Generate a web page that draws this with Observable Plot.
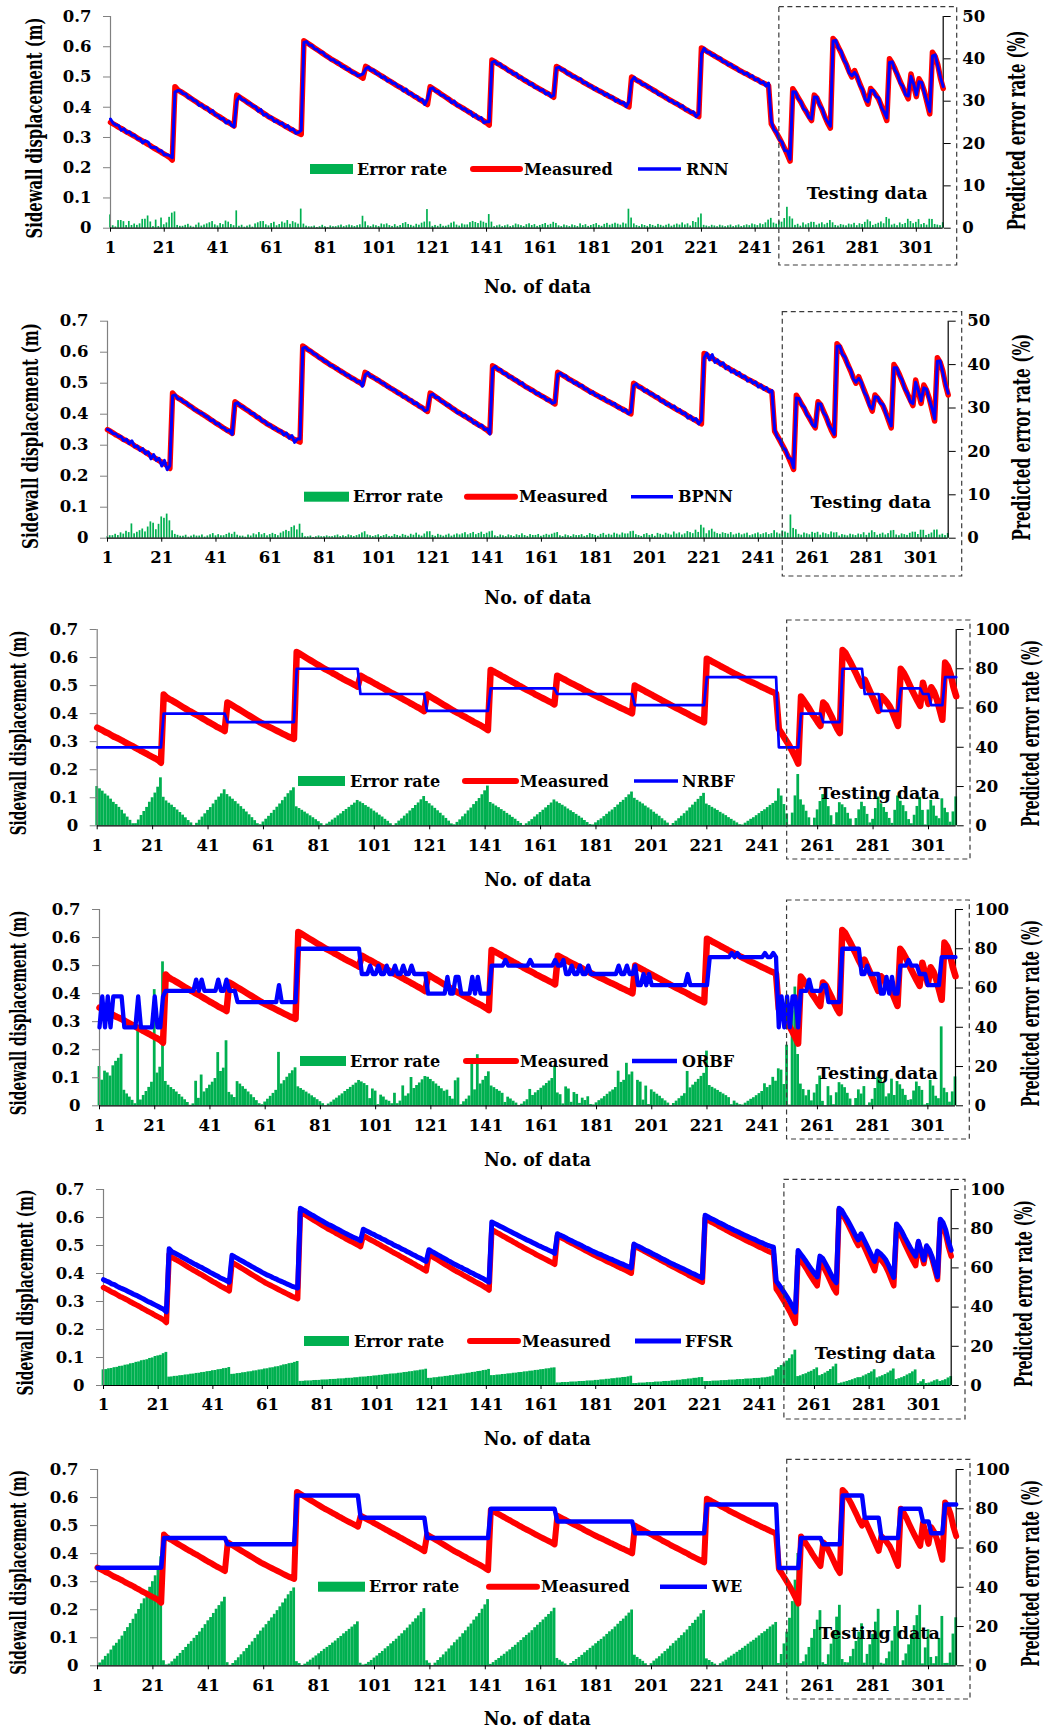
<!DOCTYPE html>
<html>
<head>
<meta charset="utf-8">
<script src="https://cdn.jsdelivr.net/npm/d3@7"></script>
<script src="https://cdn.jsdelivr.net/npm/@observablehq/plot@0.6"></script>
<style>
  body { margin: 0; background: #fff; }
  #chart { position: relative; width: 1052px; height: 1733px; }
  #chart svg { position: absolute; left: 0; overflow: visible; }
</style>
</head>
<body>
<div id="chart"></div>
<script>
// ---------------------------------------------------------------------------
// Data: sidewall displacement record (No. 1–311), in millimetres
// ---------------------------------------------------------------------------
const dataNoTicks = [1, 21, 41, 61, 81, 101, 121, 141, 161, 181, 201, 221, 241, 261, 281, 301];
const displacementTicks = [0, 0.1, 0.2, 0.3, 0.4, 0.5, 0.6, 0.7];
const errorTicks50 = [0, 10, 20, 30, 40, 50];
const errorTicks100 = [0, 20, 40, 60, 80, 100];
const trainingCount = 250;

const measuredMm = [
  350,345,340,334,330,324,318,314,309,304,298,293,288,283,277,272,266,261,256,250,245,240,234,225,
  468,458,452,447,441,435,429,423,417,411,406,400,395,389,383,377,371,366,360,354,349,344,338,
  440,434,428,422,416,410,404,398,392,386,380,374,368,363,358,353,348,343,338,333,328,323,318,314,310,
  620,614,608,602,596,590,584,578,572,566,560,555,550,544,539,533,528,522,517,512,507,502,496,
  535,530,524,519,514,508,503,497,492,486,481,475,470,465,459,454,448,443,437,432,426,421,415,409,
  468,462,456,450,444,438,432,426,420,414,408,403,398,392,387,381,376,370,365,360,354,348,341,
  556,551,545,540,534,529,523,518,512,507,501,496,490,485,480,475,469,464,459,454,449,444,439,433,
  535,530,525,520,514,509,504,499,494,489,483,478,473,468,463,458,454,449,444,439,435,430,425,420,416,411,406,401,
  500,494,489,484,478,473,468,462,457,452,446,441,436,430,425,420,415,410,405,400,394,389,384,379,374,369,
  596,591,585,580,575,569,564,559,553,548,543,538,533,528,523,518,513,509,504,499,494,490,485,480,476,471,
  // testing data
  345,330,314,298,281,263,243,222,
  461,447,432,417,400,385,370,356,
  440,430,410,390,368,347,331,
  627,617,598,580,560,540,518,500,
  521,499,477,455,432,410,
  462,452,440,426,405,380,356,
  560,546,528,506,485,465,446,428,
  510,472,435,
  494,478,452,415,378,
  582,568,540,495,462
];

// Prediction residuals (predicted − measured), mm
const rnnResidualMm = [
  11,2,1,6,-6,5,-2,5,-2,3,-2,3,-6,6,8,-4,1,5,-1,6,-2,3,6,8,
  -18,-3,2,-2,3,-4,2,-1,3,-5,2,-3,4,-5,6,-3,2,-4,3,-6,5,-3,-2,
  -18,2,-3,1,-2,3,-1,4,-5,6,-6,3,-2,4,-5,2,-3,5,-4,6,-3,5,-4,3,14,
  -6,3,-2,2,-3,1,-2,4,-2,1,-3,2,-2,3,-4,2,-3,4,-3,2,-3,4,14,
  -8,3,-2,4,-3,2,-5,4,-5,3,-2,4,-2,3,-5,6,-4,3,-2,4,-3,5,-6,18,
  -7,2,-3,2,-4,2,-2,3,-5,6,-3,2,-4,3,-3,5,-6,5,-4,6,-5,4,11,
  -8,2,-3,4,-2,3,-4,2,-3,5,-4,3,-2,4,-5,3,-4,2,-3,4,-5,3,-4,6,
  -6,3,-2,4,-3,2,-4,3,-2,5,-3,4,-2,3,-4,5,-3,2,-4,5,-3,4,-5,4,-3,5,-4,18,
  -12,5,-3,2,-4,3,-2,4,-3,2,-4,3,-2,3,-4,2,-3,4,-3,5,-3,4,-2,6,-5,9,
  -20,4,-3,2,-4,3,-2,4,-3,2,-3,4,-2,3,-4,2,-3,4,-3,5,-4,3,-5,4,-6,9,
  8,-4,3,-5,4,-6,12,6,
  -10,3,-4,2,-5,3,-4,5,
  -6,3,-4,5,-3,4,6,
  -8,4,-3,5,-4,3,-5,4,
  -6,3,-5,4,-6,8,
  -7,3,-4,5,-6,4,9,
  -12,4,-5,3,-6,4,-5,9,
  -8,5,6,
  -10,4,-5,3,8,
  -12,5,-4,3,6
];

const bpnnResidualMm = [
  1,2,-2,3,-2,4,-3,5,-4,10,-3,4,-5,6,-4,7,-10,9,-5,8,-12,11,-13,9,
  -8,4,-3,2,-2,3,-1,2,-3,2,-2,3,-1,2,-3,4,-2,3,-2,2,-3,4,-3,
  -6,3,-2,2,-1,3,-2,4,-3,5,-3,4,-2,3,-4,3,-2,4,-5,6,-5,8,-9,6,10,
  -7,2,-2,3,-1,2,-3,2,-2,3,-2,2,-3,4,-2,3,-2,4,-3,2,-3,4,-6,
  -8,4,-3,2,-3,4,-2,3,-4,2,-2,4,-3,2,-4,3,-2,4,-3,5,-3,2,-4,6,
  -7,3,-2,4,-3,2,-3,4,-2,3,-4,3,-4,5,-3,4,-5,3,-4,5,-3,4,-5,
  -9,3,-2,4,-3,2,-4,3,-2,4,-3,5,-3,2,-4,3,-3,4,-2,3,-4,3,-4,5,
  -7,3,-2,4,-3,2,-4,3,-3,4,-2,3,-5,4,-3,2,-4,5,-3,4,-3,5,-4,3,-5,4,-4,6,
  -8,4,-3,2,-4,5,-3,4,-2,5,-4,3,-5,4,-3,6,-4,5,-3,4,-6,5,-4,7,-5,11,
  -14,6,-10,12,-8,6,-5,7,-6,5,-7,4,-5,6,-4,5,-6,3,-4,5,-6,4,-5,6,-4,5,
  6,-4,3,-5,4,-3,13,5,
  -9,4,-3,5,-4,3,-5,4,
  -6,3,-5,4,-3,5,4,
  -8,3,-5,4,-3,5,-4,3,
  -5,4,-6,3,-5,7,
  -6,3,-4,5,-3,4,6,
  -10,4,-3,5,-4,3,-5,6,
  -7,4,8,
  -9,3,-4,5,7,
  -11,4,-5,3,5
];

const ffsrResidualMm = [
  28,28,29,29,30,30,31,31,32,32,33,33,34,34,35,35,35,36,36,37,37,37,38,38,
  20,20,21,21,22,22,23,23,24,24,25,25,26,26,27,27,28,28,29,29,30,30,31,
  25,25,26,26,27,27,28,28,29,29,30,30,31,31,32,32,33,33,34,35,35,36,36,37,38,
  13,13,14,14,14,15,15,15,16,16,16,17,17,17,18,18,18,19,19,19,20,20,21,
  23,23,24,24,25,25,26,26,27,27,28,28,28,29,29,30,30,31,31,32,32,33,33,34,
  17,17,18,18,19,19,20,20,21,21,22,22,23,23,24,24,25,25,26,26,27,27,28,
  28,28,29,29,30,30,31,31,32,32,33,33,34,34,35,35,36,36,37,37,38,38,39,39,
  7,7,8,8,8,9,9,9,10,10,10,11,11,11,12,12,13,13,14,14,15,15,16,16,17,17,18,19,
  5,5,6,6,6,7,7,7,8,8,8,9,9,9,10,10,11,11,12,12,13,13,14,14,15,15,
  12,12,12,13,13,13,14,14,14,15,15,15,16,16,16,17,17,17,18,18,18,19,19,20,21,23,
  28,30,32,33,35,36,38,40,
  21,22,24,25,27,28,30,32,
  22,24,26,28,30,33,36,
  6,8,10,12,14,16,18,20,
  21,24,26,28,30,33,
  18,20,22,24,26,28,30,
  17,19,21,23,26,28,31,34,
  5,9,13,
  5,6,8,10,11,
  12,14,16,19,21
];

// Piecewise-constant predictions: [first No., level in mm]
const nrbfSteps = [
  [1,280],[25,400],[48,370],[73,560],[96,470],[120,410],[143,490],[167,470],[195,430],[221,530],
  [247,280],[255,400],[263,370],[270,560],[278,470],[284,410],[291,490],[299,470],[302,430],[307,530]
];

const orbfSteps = [
  [1,280],[2,390],[3,280],[4,390],[5,280],[6,390],[10,280],[15,390],[16,280],[21,390],[22,280],[24,390],
  [25,410],[36,450],[37,410],[38,450],[39,410],[44,450],[45,410],[47,450],[48,410],[51,370],
  [66,430],[67,370],[73,560],
  [96,470],[99,500],[100,470],[102,500],[103,470],[105,500],[106,470],[108,500],[109,470],[111,500],[112,470],[114,500],[115,470],
  [120,400],[127,460],[128,400],[130,460],[132,400],[136,460],[137,400],[138,460],[139,400],
  [143,500],[148,520],[149,500],[157,520],[158,500],[166,520],[167,500],[169,520],[170,470],
  [172,500],[173,470],[175,500],[176,470],[178,500],[179,470],[189,500],[190,470],[192,500],[193,470],[195,500],[196,430],
  [198,470],[199,430],[200,470],[201,430],[214,470],[215,430],
  [222,530],[230,545],[231,530],[232,545],[233,530],[242,545],[243,530],[245,545],[246,530],
  [247,280],[248,390],[249,280],[250,390],[251,280],[252,390],[254,280],
  [255,410],[258,450],[259,410],[263,430],[265,370],
  [270,560],[277,470],[279,500],[280,470],
  [284,400],[286,460],[287,400],[288,460],[289,400],
  [291,500],[294,520],[295,500],[298,470],[301,430],[306,530]
];

const weSteps = [
  [1,350],[25,456],[48,433],[73,607],[96,528],[120,456],[143,560],[167,515],[195,473],[221,575],
  [247,349],[255,456],[263,433],[270,607],[278,528],[284,456],[291,560],[299,515],[302,473],[307,575]
];

// ---------------------------------------------------------------------------
// Derived rows: measured, predicted and error rate (%) for each model
// ---------------------------------------------------------------------------
const X_MAX = measuredMm.length;
const Y_MAX = 0.7;

function levelAt(steps, no) {
  let level = steps[0][1];
  for (const [start, value] of steps) {
    if (start <= no) level = value; else break;
  }
  return level;
}

function rowsFrom(predictMm) {
  return measuredMm.map((m, i) => {
    const p = predictMm(i);
    return {no: i + 1, meas: m / 1000, pred: p / 1000, err: Math.abs(p - m) / m * 100};
  });
}

const fromResidual = (res) => rowsFrom((i) => measuredMm[i] + (res[i] ?? 0));
const fromSteps = (steps) => rowsFrom((i) => levelAt(steps, i + 1));

// ---------------------------------------------------------------------------
// Panel layout and styling
// ---------------------------------------------------------------------------
const FONT = "DejaVu Serif";
const GREEN = "#00B050", RED = "#FF0000", BLUE = "#0000FF";
const Y_TITLE = "Sidewall displacement (m)";
const R_TITLE = "Predicted error rate (%)";
const X_TITLE = "No. of data";

const panels = [
  {model: "RNN", rows: fromResidual(rnnResidualMm), rightTicks: errorTicks50, rightMax: 50,
   top: 0, height: 300, frame: {top: 16, bottom: 227.7, left: 110, right: 942.7},
   redWidth: 5.5, blueWidth: 3, barInset: 0.5,
   legend: {y: 169, green: [310, 353], t1: 357, red: [473, 520], t2: 524, blue: [638, 681], t3: 686},
   testing: {dx: -15.7, dy: -34.7}, yTitle: {dx: -76, dy: 5.6, len: 221}, rTitle: {dx: 74, dy: 8, len: 200},
   xTitle: {dx: 10.6, dy: 59.3}, box: {top: -9.3, bottom: -37.3, right: -14}},
  {model: "BPNN", rows: fromResidual(bpnnResidualMm), rightTicks: errorTicks50, rightMax: 50,
   top: 300, height: 300, frame: {top: 320.7, bottom: 537.7, left: 107, right: 947.7},
   redWidth: 5.5, blueWidth: 3, barInset: 0.5,
   legend: {y: 496.7, green: [304, 349], t1: 353, red: [467, 515], t2: 519, blue: [631, 673], t3: 678},
   testing: {dx: -17, dy: -35.7}, yTitle: {dx: -77, dy: 6.3, len: 226}, rTitle: {dx: 74, dy: 7.5, len: 207},
   xTitle: {dx: 10, dy: 60.3}, box: {top: -9, bottom: -38.3, right: -14}},
  {model: "NRBF", rows: fromSteps(nrbfSteps), rightTicks: errorTicks100, rightMax: 100,
   top: 600, height: 290, frame: {top: 629, bottom: 825.3, left: 96.7, right: 955.7},
   redWidth: 6.5, blueWidth: 2.7, barInset: 0,
   legend: {y: 781, green: [298, 345], t1: 350, red: [465, 516], t2: 520, blue: [634, 678], t3: 682},
   testing: {dx: -16.4, dy: -32.3}, yTitle: {dx: -78, dy: 5.3, len: 205}, rTitle: {dx: 75, dy: 5.8, len: 187},
   xTitle: {dx: 11, dy: 54.5}, box: {top: -9, bottom: -33.7, right: -14.3}},
  {model: "ORBF", rows: fromSteps(orbfSteps), rightTicks: errorTicks100, rightMax: 100,
   top: 880, height: 290, frame: {top: 909, bottom: 1105.3, left: 99, right: 955},
   redWidth: 6.5, blueWidth: 4.3, barInset: 0,
   legend: {y: 1061, green: [300, 346], t1: 350, red: [466, 516], t2: 520, blue: [632, 677], t3: 682},
   testing: {dx: -17.7, dy: -32.3}, yTitle: {dx: -80.3, dy: 5.3, len: 205}, rTitle: {dx: 75.8, dy: 5.8, len: 187},
   xTitle: {dx: 10, dy: 54}, box: {top: -9, bottom: -33.7, right: -14.3}},
  {model: "FFSR", rows: fromResidual(ffsrResidualMm), rightTicks: errorTicks100, rightMax: 100,
   top: 1160, height: 290, frame: {top: 1189, bottom: 1385, left: 103, right: 950.7},
   redWidth: 5.5, blueWidth: 5, barInset: 0,
   legend: {y: 1341, green: [304, 349], t1: 354, red: [470, 518], t2: 522, blue: [635, 681], t3: 685},
   testing: {dx: -15.7, dy: -32}, yTitle: {dx: -78, dy: 5, len: 206}, rTitle: {dx: 73.3, dy: 6, len: 187},
   xTitle: {dx: 10, dy: 54}, box: {top: -9.7, bottom: -34, right: -14.3}},
  {model: "WE", rows: fromSteps(weSteps), rightTicks: errorTicks100, rightMax: 100,
   top: 1440, height: 293, frame: {top: 1469, bottom: 1665.3, left: 97, right: 955.7},
   redWidth: 6, blueWidth: 4.5, barInset: 0,
   legend: {y: 1586.7, green: [318, 365], t1: 369, red: [489, 537], t2: 541, blue: [660, 707], t3: 712},
   testing: {dx: -16.4, dy: -32.3}, yTitle: {dx: -78.3, dy: 4.8, len: 205}, rTitle: {dx: 75, dy: 5.8, len: 187},
   xTitle: {dx: 10.5, dy: 53.5}, box: {top: -9.7, bottom: -33.7, right: -14.3}}
];

// Narrow a rotated title to the given length by scaling it along its own direction.
function condense(sel, content, length) {
  sel.selectAll("text")
    .filter(function () { return this.textContent === content; })
    .each(function () {
      const natural = this.getComputedTextLength();
      if (!natural) return;
      const t = this.getAttribute("transform") || "";
      this.setAttribute("transform", `${t} scale(${(length / natural).toFixed(4)},1)`);
    });
}

function drawPanel(cfg) {
  const k = Y_MAX / cfg.rightMax; // error-rate % → displacement units (shared y scale)
  const f = cfg.frame;
  const svg = Plot.plot({
    width: 1052,
    height: cfg.height,
    marginTop: f.top - cfg.top,
    marginBottom: cfg.top + cfg.height - f.bottom,
    marginLeft: f.left,
    marginRight: 1052 - f.right,
    style: {fontFamily: FONT, fontWeight: "bold", fontSize: "16px", color: "#000", background: "transparent", overflow: "visible"},
    x: {domain: [1, X_MAX]},
    y: {domain: [0, Y_MAX]},
    marks: [
      // error-rate columns, read against the right-hand axis
      Plot.rectY(cfg.rows, {
        x1: (d) => d.no - 0.5, x2: (d) => d.no + 0.5, y1: 0, y2: (d) => d.err * k,
        fill: GREEN, insetLeft: cfg.barInset, insetRight: cfg.barInset
      }),
      // axis lines
      Plot.ruleX([1], {stroke: "#808080", strokeWidth: 1.2}),
      Plot.ruleX([X_MAX], {stroke: "#000", strokeWidth: 1.2}),
      Plot.ruleY([0], {stroke: "#000", strokeWidth: 1.2}),
      Plot.axisX(dataNoTicks, {tickSize: 4, tickPadding: 9, label: null, fontSize: 16.5}),
      Plot.axisY(displacementTicks, {
        anchor: "left", tickSize: 7, tickPadding: 12, label: null, stroke: "#808080", fontSize: 16.5,
        tickFormat: (d) => (d === 0 ? "0" : d.toFixed(1))
      }),
      Plot.axisY(cfg.rightTicks.map((v) => v * k), {
        anchor: "right", tickSize: 7, tickPadding: 12, label: null, fontSize: 16.5,
        tickFormat: (d) => String(Math.round(d / k))
      }),
      // measured and predicted series
      Plot.line(cfg.rows, {x: "no", y: "meas", stroke: RED, strokeWidth: cfg.redWidth, strokeLinejoin: "round", strokeLinecap: "round"}),
      Plot.line(cfg.rows, {x: "no", y: "pred", stroke: BLUE, strokeWidth: cfg.blueWidth, strokeLinejoin: "round"}),
      // testing-data window
      Plot.rect([trainingCount], {
        x1: (d) => d, x2: X_MAX, y1: 0, y2: Y_MAX, fill: "none", stroke: "#3a3a3a", strokeWidth: 1.2,
        strokeDasharray: "5,3.5", insetTop: cfg.box.top, insetBottom: cfg.box.bottom, insetRight: cfg.box.right
      }),
      Plot.text(["Testing data"], {
        frameAnchor: "bottom-right", textAnchor: "end", lineAnchor: "middle",
        dx: cfg.testing.dx, dy: cfg.testing.dy, fontSize: 17.5, fill: "#000"
      }),
      // axis titles
      Plot.text([Y_TITLE], {
        frameAnchor: "left", rotate: -90, lineAnchor: "middle", textAnchor: "middle",
        dx: cfg.yTitle.dx, dy: cfg.yTitle.dy, fontSize: 22.5
      }),
      Plot.text([R_TITLE], {
        frameAnchor: "right", rotate: -90, lineAnchor: "middle", textAnchor: "middle",
        dx: cfg.rTitle.dx, dy: cfg.rTitle.dy, fontSize: 24
      }),
      Plot.text([X_TITLE], {
        frameAnchor: "bottom", lineAnchor: "middle", textAnchor: "middle",
        dx: cfg.xTitle.dx, dy: cfg.xTitle.dy, fontSize: 18.5
      })
    ]
  });

  const s = d3.select(svg);
  s.style("top", cfg.top + "px");
  document.getElementById("chart").appendChild(svg);

  condense(s, Y_TITLE, cfg.yTitle.len);
  condense(s, R_TITLE, cfg.rTitle.len);
  s.selectAll("text").filter(function () { return this.textContent === X_TITLE; })
    .attr("textLength", 107).attr("lengthAdjust", "spacingAndGlyphs");

  // in-plot legend
  const L = cfg.legend;
  const y = L.y - cfg.top;
  const g = s.append("g")
    .attr("font-family", FONT).attr("font-weight", "bold").attr("font-size", 16).attr("text-anchor", "start");
  g.append("rect").attr("x", L.green[0]).attr("y", y - 5).attr("width", L.green[1] - L.green[0]).attr("height", 10).attr("fill", GREEN);
  g.append("line").attr("x1", L.red[0]).attr("x2", L.red[1]).attr("y1", y).attr("y2", y)
    .attr("stroke", RED).attr("stroke-width", 6).attr("stroke-linecap", "round");
  g.append("line").attr("x1", L.blue[0]).attr("x2", L.blue[1]).attr("y1", y).attr("y2", y)
    .attr("stroke", BLUE).attr("stroke-width", Math.max(3.5, cfg.blueWidth));
  [[L.t1, "Error rate"], [L.t2, "Measured"], [L.t3, cfg.model]].forEach(([x, t]) => {
    g.append("text").attr("x", x).attr("y", y).attr("dy", "0.35em").attr("fill", "#000").text(t);
  });
}

panels.forEach(drawPanel);
</script>
</body>
</html>
